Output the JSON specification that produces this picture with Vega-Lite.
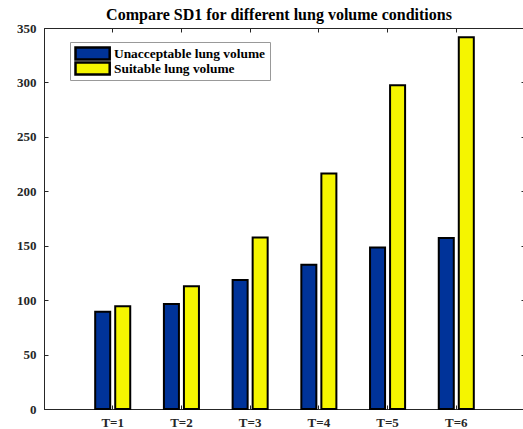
{
  "$schema": "https://vega.github.io/schema/vega-lite/v6.json",
  "autosize": "none",
  "width": 481,
  "height": 381,
  "padding": {"left": 44, "top": 28, "right": 0, "bottom": 20},
  "background": "white",
  "config": {
    "view": {"stroke": "#262626", "strokeWidth": 1},
    "axis": {
      "labelFont": "Liberation Serif",
      "labelFontWeight": "bold",
      "labelFontSize": 13,
      "labelColor": "#262626",
      "domainColor": "#262626",
      "tickColor": "#262626",
      "grid": false
    }
  },
  "data": {
    "values": [
      {"T": "T=1", "cond": "Unacceptable lung volume", "v": 89.4},
      {"T": "T=1", "cond": "Suitable lung volume", "v": 94.4},
      {"T": "T=2", "cond": "Unacceptable lung volume", "v": 96.5},
      {"T": "T=2", "cond": "Suitable lung volume", "v": 112.8},
      {"T": "T=3", "cond": "Unacceptable lung volume", "v": 118.5},
      {"T": "T=3", "cond": "Suitable lung volume", "v": 157.6},
      {"T": "T=4", "cond": "Unacceptable lung volume", "v": 132.6},
      {"T": "T=4", "cond": "Suitable lung volume", "v": 216.4},
      {"T": "T=5", "cond": "Unacceptable lung volume", "v": 148.4},
      {"T": "T=5", "cond": "Suitable lung volume", "v": 297.3},
      {"T": "T=6", "cond": "Unacceptable lung volume", "v": 157.1},
      {"T": "T=6", "cond": "Suitable lung volume", "v": 341.4}
    ]
  },
  "resolve": {"axis": {"x": "independent", "y": "independent"}},
  "layer": [
    {
      "mark": {"type": "bar", "stroke": "#000000", "strokeWidth": 2},
      "encoding": {
        "x": {
          "field": "T", "type": "nominal", "sort": null,
          "scale": {"paddingInner": 0.49, "paddingOuter": 0.745},
          "axis": {"orient": "bottom", "title": null, "labelAngle": 0, "tickSize": -4, "labelPadding": 11, "domainWidth": 1}
        },
        "xOffset": {
          "field": "cond", "type": "nominal",
          "sort": ["Unacceptable lung volume", "Suitable lung volume"],
          "scale": {"paddingInner": 0.25, "paddingOuter": 0}
        },
        "y": {
          "field": "v", "type": "quantitative",
          "scale": {"domain": [0, 350], "nice": false, "zero": true},
          "axis": {"orient": "left", "title": null, "values": [0, 50, 100, 150, 200, 250, 300, 350], "tickSize": -4, "labelPadding": 12}
        },
        "color": {
          "field": "cond", "type": "nominal",
          "scale": {"domain": ["Unacceptable lung volume", "Suitable lung volume"], "range": ["#003399", "#f5f500"]},
          "legend": {
            "title": null,
            "orient": "none",
            "legendX": 26,
            "legendY": 14,
            "direction": "vertical",
            "symbolType": "M-1,-1L4.7,-1L4.7,1L-1,1Z",
            "symbolSize": 144,
            "symbolStrokeColor": "#000000",
            "symbolStrokeWidth": 2.5,
            "symbolOpacity": 1,
            "labelFont": "Liberation Serif",
            "labelFontWeight": "bold",
            "labelFontSize": 13.4,
            "labelColor": "#000000",
            "labelOffset": 25,
            "clipHeight": 15,
            "rowPadding": 0,
            "padding": 4,
            "strokeColor": "#999999",
            "fillColor": "#ffffff"
          }
        }
      }
    },
    {
      "mark": {"type": "bar", "opacity": 0},
      "encoding": {
        "x": {
          "field": "T", "type": "nominal", "sort": null,
          "axis": {
            "orient": "top", "labels": false, "tickSize": -4, "domain": false,
            "title": "Compare SD1 for different lung volume conditions",
            "titleFont": "Liberation Serif",
            "titleFontSize": 16,
            "titleFontWeight": "bold",
            "titleColor": "#000000",
            "titlePadding": 5,
            "titleX": 234.5
          }
        },
        "y": {
          "field": "v", "type": "quantitative",
          "axis": {"orient": "right", "title": null, "labels": false, "values": [0, 50, 100, 150, 200, 250, 300, 350], "tickSize": -4, "domain": false}
        }
      }
    }
  ]
}
